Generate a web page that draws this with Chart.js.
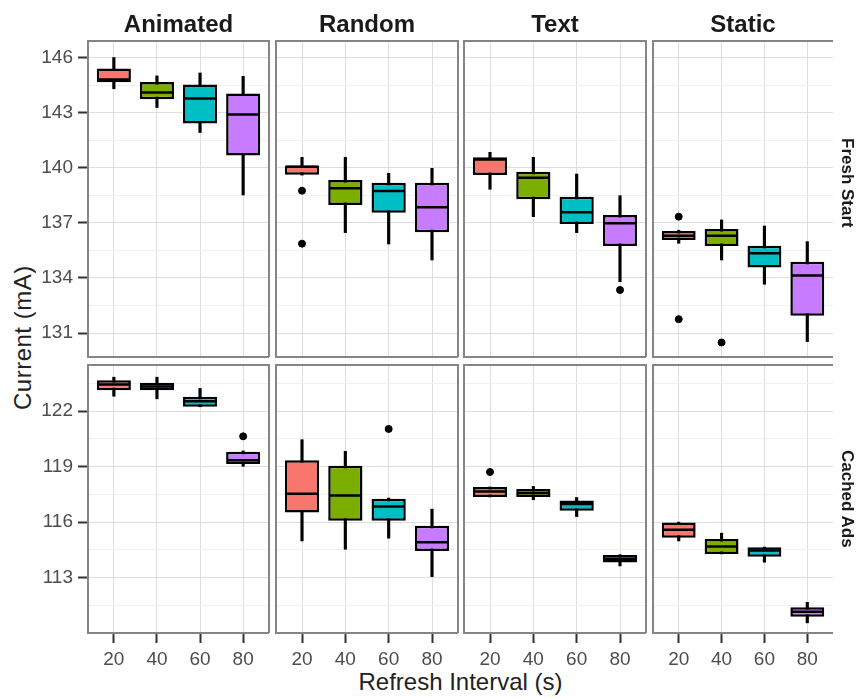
<!DOCTYPE html>
<html>
<head>
<meta charset="utf-8">
<script src="https://cdn.jsdelivr.net/npm/chart.js@4.4.1/dist/chart.umd.min.js"></script>
<style>
body { margin: 0; background: #fff; }
#wrap { position: relative; width: 859px; height: 699px; overflow: hidden; font-family: "Liberation Sans", Arial, sans-serif; }
#wrap canvas { position: absolute; }
.strip { position: absolute; top: 12px; font-weight: bold; font-size: 24px; line-height: 24px; color: #1a1a1a; text-align: center; }
.rstrip { position: absolute; left: 836px; width: 22px; font-weight: bold; font-size: 17px; color: #1a1a1a;
  writing-mode: vertical-rl; display: flex; align-items: center; justify-content: center; }
#xtitle { position: absolute; left: 88px; width: 745px; top: 670px; font-size: 24px; line-height: 24px; color: #222; text-align: center; }
#ytitle { position: absolute; left: 10px; top: 238px; height: 200px; width: 26px; font-size: 24px; color: #222; letter-spacing: 0.5px;
  writing-mode: vertical-rl; transform: rotate(180deg); display: flex; align-items: center; justify-content: center; }
</style>
</head>
<body>
<div id="wrap">
  <div id="xtitle">Refresh Interval (s)</div>
  <div id="ytitle">Current (mA)</div>
</div>
<script>
const intervals = ['20', '40', '60', '80'];
const columns = ['Animated', 'Random', 'Text', 'Static'];
const rows = ['Fresh Start', 'Cached Ads'];
const boxColors = ['#F8766D', '#7CAE00', '#00BFC4', '#C77CFF'];

// [lower whisker, q1, median, q3, upper whisker] for 20, 40, 60, 80 s
const freshAnimated = [[144.3, 144.65, 144.8, 145.4, 146.0], [143.28, 143.73, 144.1, 144.67, 145.0],
  [141.92, 142.41, 143.77, 144.53, 145.16], [138.52, 140.67, 142.9, 144.04, 144.98]];
const freshRandom = [[139.6, 139.62, 140.05, 140.12, 140.57], [136.47, 137.97, 138.88, 139.33, 140.57],
  [135.85, 137.55, 138.73, 139.19, 139.7], [134.98, 136.49, 137.85, 139.19, 139.97]];
const freshText = [[138.83, 139.6, 140.45, 140.57, 140.84], [137.34, 138.28, 139.46, 139.78, 140.57],
  [136.47, 136.94, 137.58, 138.42, 139.66], [133.8, 135.74, 136.98, 137.43, 138.48]];
const freshStatic = [[135.89, 136.07, 136.3, 136.56, 136.6], [134.98, 135.74, 136.3, 136.67, 137.16],
  [133.66, 134.57, 135.35, 135.76, 136.83], [130.54, 131.94, 134.13, 134.89, 135.98]];

const cachedAnimated = [[122.81, 123.14, 123.45, 123.68, 123.84], [122.67, 123.14, 123.34, 123.54, 123.84],
  [122.24, 122.24, 122.54, 122.78, 123.23], [119.02, 119.15, 119.35, 119.8, 119.85]];
const cachedRandom = [[114.98, 116.52, 117.53, 119.34, 120.46], [114.53, 116.07, 117.44, 119.05, 119.83],
  [115.13, 116.07, 116.85, 117.26, 117.3], [113.05, 114.44, 114.91, 115.8, 116.7]];
const cachedText = [[117.36, 117.36, 117.66, 117.9, 117.9], [117.21, 117.36, 117.57, 117.79, 117.93],
  [116.3, 116.61, 116.98, 117.17, 117.33], [113.63, 113.81, 114.02, 114.22, 114.24]];
const cachedStatic = [[114.98, 115.16, 115.58, 115.98, 116.0], [114.28, 114.28, 114.68, 115.08, 115.4],
  [113.83, 114.13, 114.46, 114.64, 114.65], [110.55, 110.88, 111.15, 111.39, 111.66]];

// outliers: [interval, value]
const freshAnimatedOut = [];
const freshRandomOut = [['20', 138.75], ['20', 135.87]];
const freshTextOut = [['80', 133.35]];
const freshStaticOut = [['20', 137.34], ['20', 131.76], ['40', 130.49]];
const cachedAnimatedOut = [['80', 120.64]];
const cachedRandomOut = [['60', 121.04]];
const cachedTextOut = [['20', 118.71]];
const cachedStaticOut = [];

const freshTicks = [131, 134, 137, 140, 143, 146];
const cachedTicks = [113, 116, 119, 122];
const freshRange = [129.7, 146.9];
const cachedRange = [110.0, 124.5];

const panels = [[freshAnimated, freshRandom, freshText, freshStatic],
  [cachedAnimated, cachedRandom, cachedText, cachedStatic]];
const outliers = [[freshAnimatedOut, freshRandomOut, freshTextOut, freshStaticOut],
  [cachedAnimatedOut, cachedRandomOut, cachedTextOut, cachedStaticOut]];
const rowTicks = [freshTicks, cachedTicks];
const rowRanges = [freshRange, cachedRange];

// layout of the panel grid (page pixels)
const colLeft = [88, 276, 464, 653];
const colRight = [269, 458, 646, 833];
const rowTop = [41, 365];
const rowBottom = [357, 633];
const xAxisH = 34;
const P = 20;

Chart.defaults.font.family = '"Liberation Sans", Arial, sans-serif';
Chart.defaults.animation = false;

const medianPlugin = {
  id: 'median',
  afterDatasetsDraw(chart, args, opts) {
    const meta = chart.getDatasetMeta(1);
    const y = chart.scales.y;
    const ctx = chart.ctx;
    ctx.save();
    ctx.strokeStyle = '#000';
    ctx.lineWidth = 2.5;
    meta.data.forEach((bar, i) => {
      const p = bar.getProps(['x', 'width'], true);
      const py = y.getPixelForValue(opts.values[i]);
      ctx.beginPath();
      ctx.moveTo(p.x - p.width / 2 + 1, py);
      ctx.lineTo(p.x + p.width / 2 - 1, py);
      ctx.stroke();
    });
    ctx.restore();
  }
};

const framePlugin = {
  id: 'frame',
  afterDatasetsDraw(chart, args, opts) {
    const a = chart.chartArea;
    const ctx = chart.ctx;
    ctx.save();
    ctx.strokeStyle = '#858585';
    ctx.lineWidth = 2;
    ctx.beginPath();
    ctx.moveTo(a.right, a.bottom);
    ctx.lineTo(a.left, a.bottom);
    ctx.lineTo(a.left, a.top);
    ctx.lineTo(a.right, a.top);
    if (!opts.open) ctx.lineTo(a.right, a.bottom);
    ctx.stroke();
    ctx.restore();
  }
};

const wrap = document.getElementById('wrap');
const tickFont = { size: 19 };

function makePanel(r, c) {
  const canvas = document.createElement('canvas');
  const x0 = c === 0 ? 0 : colLeft[c];
  const yw = c === 0 ? colLeft[0] : 0;
  const xh = r === 1 ? xAxisH : 0;
  canvas.width = colRight[c] - x0 + 2 * P;
  canvas.height = rowBottom[r] - rowTop[r] + xh + 2 * P;
  canvas.style.left = (x0 - P) + 'px';
  canvas.style.top = (rowTop[r] - P) + 'px';
  wrap.appendChild(canvas);

  const stats = panels[r][c];
  const majors = rowTicks[r];
  const range = rowRanges[r];
  const yVals = [];
  majors.forEach(m => {
    [m - 1.5, m, m + 1.5].forEach(v => {
      if (v > range[0] && v < range[1] && !yVals.includes(v)) yVals.push(v);
    });
  });
  yVals.sort((a, b) => a - b);

  new Chart(canvas, {
    type: 'bar',
    data: {
      datasets: [{
        type: 'scatter',
        data: outliers[r][c].map(o => ({ x: intervals.indexOf(o[0]) + 1, y: o[1] })),
        backgroundColor: '#000',
        borderColor: '#000',
        pointRadius: 3.5,
        order: 1
      }, {
        data: stats.map((s, i) => ({ x: i + 1, y: [s[1], s[3]] })),
        backgroundColor: boxColors,
        borderColor: '#000',
        borderWidth: 2.5,
        borderSkipped: false,
        grouped: false,
        barPercentage: 1,
        categoryPercentage: 0.79,
        order: 2
      }, {
        data: stats.map((s, i) => ({ x: i + 1, y: [s[0], s[4]] })),
        backgroundColor: '#000',
        borderWidth: 0,
        grouped: false,
        barThickness: 2.5,
        order: 3
      }]
    },
    options: {
      responsive: false,
      layout: { padding: P },
      plugins: {
        legend: { display: false },
        tooltip: { enabled: false },
        median: { values: stats.map(s => s[2]) },
        frame: { open: c === 3 }
      },
      scales: {
        x: {
          type: 'linear', min: 0.4, max: 4.6, offset: false,
          afterBuildTicks: s => { s.ticks = intervals.map((t, i) => ({ value: i + 1 })); },
          afterFit: s => { s.height = xh; },
          border: { display: false },
          grid: { offset: false, color: '#dedede', lineWidth: 1, drawTicks: r === 1, tickLength: 10, tickColor: '#333', tickWidth: 2 },
          ticks: { display: r === 1, autoSkip: false, maxRotation: 0, padding: 5, color: '#4d4d4d', font: tickFont,
            callback: v => intervals[v - 1] }
        },
        y: {
          type: 'linear', min: range[0], max: range[1],
          afterBuildTicks: s => { s.ticks = yVals.map(v => ({ value: v })); },
          afterFit: s => { s.width = yw; },
          border: { display: false },
          grid: {
            color: ctx => ctx.tick && majors.includes(ctx.tick.value) ? '#dedede' : '#f0f0f0',
            lineWidth: 1,
            drawTicks: c === 0, tickLength: 10, tickWidth: 2,
            tickColor: ctx => ctx.tick && majors.includes(ctx.tick.value) ? '#333' : 'rgba(0,0,0,0)'
          },
          ticks: { display: c === 0, autoSkip: false, padding: 5, color: '#4d4d4d', font: tickFont,
            callback: v => majors.includes(v) ? String(v) : '' }
        }
      }
    },
    plugins: [medianPlugin, framePlugin]
  });
}

for (let r = 0; r < rows.length; r++) {
  for (let c = 0; c < columns.length; c++) makePanel(r, c);
}

columns.forEach((name, c) => {
  const d = document.createElement('div');
  d.className = 'strip';
  d.style.left = colLeft[c] + 'px';
  d.style.width = (colRight[c] - colLeft[c]) + 'px';
  d.textContent = name;
  wrap.appendChild(d);
});

rows.forEach((name, r) => {
  const d = document.createElement('div');
  d.className = 'rstrip';
  d.style.top = (rowTop[r] - (r === 0 ? 16 : 0)) + 'px';
  d.style.height = (rowBottom[r] - rowTop[r]) + 'px';
  d.textContent = name;
  wrap.appendChild(d);
});
</script>
</body>
</html>
